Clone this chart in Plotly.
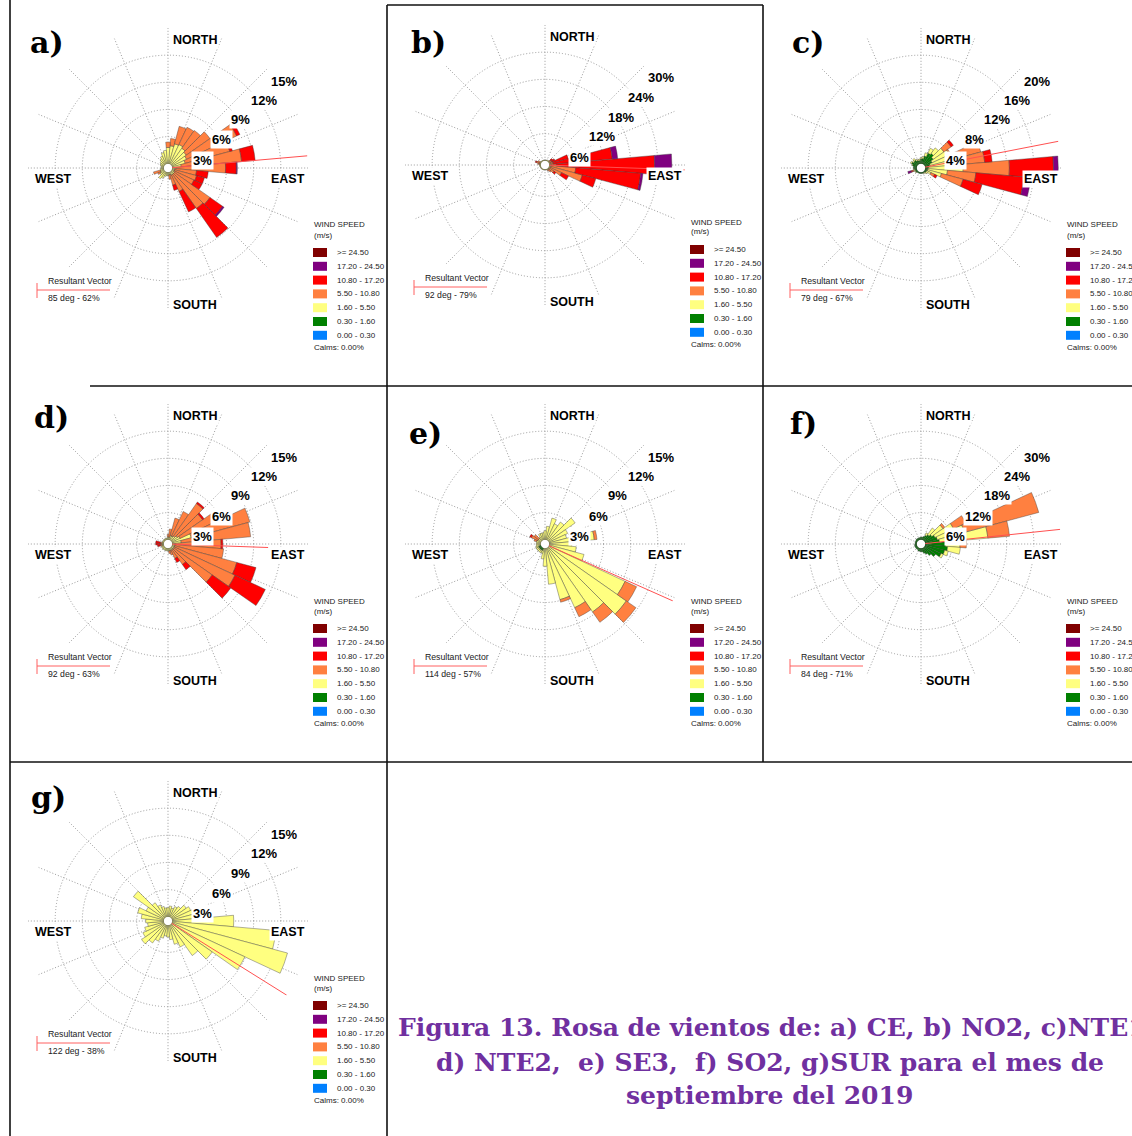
import plotly.graph_objects as go

W, H = 1132, 1136

# wind directions (deg, blowing-from, 36 sectors)
DIRS = [10 * i for i in range(1, 37)]

CLASS_NAMES = [">= 24.50", "17.20 - 24.50", "10.80 - 17.20", "5.50 - 10.80",
               "1.60 - 5.50", "0.30 - 1.60", "0.00 - 0.30"]
CLASS_COLORS = ["#800000", "#800080", "#FF0000", "#FF8040",
                "#FFFF80", "#008000", "#0080FF"]

# ---------------- panel a) CE ----------------
A_Y = [2.0, 2.3, 2.4, 2.2, 2.0, 1.8, 1.5, 1.0, 0.5, 0.3, 0.3, 0.3, 0.4, 0.4, 0.4, 0.3, 0.3, 0.4,
       0.4, 0.5, 0.8, 1.0, 0.6, 0.5, 0.4, 0.4, 0.3, 0.3, 0.4, 0.5, 0.6, 0.8, 1.0, 1.3, 1.5, 1.8]
A_O = [0.8, 2.0, 2.1, 2.4, 3.2, 6.1, 5.1, 6.7, 5.4, 2.4, 2.5, 2.4, 4.8, 4.6, 2.0, 1.2, 0.5, 0,
       0, 0, 0, 0, 0, 0.3, 0.8, 0, 0, 0, 0, 0, 0, 0, 0, 0, 0, 0.6]
A_R = [0, 0, 0, 0, 0, 0.4, 0.3, 1.5, 1.2, 1.3, 0.9, 1.0, 1.7, 3.9, 2.5, 0.6, 0, 0,
       0, 0, 0, 0, 0, 0, 0, 0, 0, 0, 0, 0, 0, 0, 0, 0, 0, 0]
A_P = [0, 0, 0, 0, 0, 0, 0, 0, 0.1, 0, 0, 0, 0.2, 0, 0, 0, 0, 0,
       0, 0, 0, 0, 0, 0, 0, 0, 0, 0, 0, 0, 0, 0, 0, 0, 0, 0]

# ---------------- panel b) NO2 ----------------
B_Y = [0.2, 0.2, 0.3, 0.3, 0.3, 0.3, 0.4, 0.4, 0.4, 0.4, 0.4, 0.3, 0.3, 0.3, 0.3, 0.2, 0.2, 0.2,
       0.2, 0.2, 0.2, 0.2, 0.2, 0.2, 0.2, 0.3, 0.3, 0.3, 0.3, 0.3, 0.3, 0.2, 0.2, 0.2, 0.2, 0.2]
B_O = [0, 0, 0, 0, 0.3, 0.4, 0.5, 0.5, 1.2, 5.5, 7.2, 2.8, 1.2, 0.7, 0.3, 0, 0, 0,
       0, 0, 0, 0, 0, 0, 0, 0, 0, 0.4, 0.7, 0.5, 0, 0, 0, 0, 0, 0]
B_R = [0, 0, 0, 0, 0.5, 0.8, 3.5, 13.1, 21.7, 14.4, 3.1, 1.7, 0.5, 0, 0, 0, 0, 0,
       0, 0, 0, 0, 0, 0, 0, 0, 0, 0, 0.3, 0, 0, 0, 0, 0, 0, 0]
B_P = [0, 0, 0, 0, 0, 0, 0, 1.2, 3.8, 0.5, 0, 0, 0, 0, 0, 0, 0, 0,
       0, 0, 0, 0, 0, 0, 0, 0, 0, 0, 0, 0, 0, 0, 0, 0, 0, 0]

# ---------------- panel c) NTE1 ----------------
C_G = [0.8, 1.2, 1.8, 2.0, 1.6, 1.2, 0.8, 0.6, 0.5, 0.4, 0.4, 0.3, 0.3, 0.2, 0.2, 0.2, 0.2, 0.2,
       0.2, 0.2, 0.2, 0.2, 0.3, 0.3, 0.3, 0.4, 0.5, 0.5, 0.7, 0.9, 0.7, 0.8, 0.6, 0.5, 0.5, 0.7]
C_Y = [0.3, 0.5, 0.8, 1.0, 1.9, 2.8, 4.2, 4.4, 5.1, 2.9, 2.1, 0.7, 0.3, 0.2, 0.1, 0, 0, 0,
       0, 0, 0, 0, 0.1, 0.1, 0.2, 0.1, 0, 0, 0.1, 0.2, 0.2, 0.3, 0.2, 0.2, 0.2, 0.2]
C_O = [0, 0, 0, 0, 1.3, 0.2, 3.5, 3.8, 6.8, 4.2, 3.3, 0.6, 0, 0, 0, 0, 0, 0,
       0, 0, 0, 0, 0, 0, 0.2, 0, 0, 0, 0, 0, 0, 0, 0, 0, 0, 0]
C_R = [0, 0, 0, 0, 0.4, 0, 0, 1.1, 6.5, 7.1, 2.9, 0.4, 0, 0, 0, 0, 0, 0,
       0, 0, 0, 0, 0, 0, 0.2, 0, 0, 0, 0, 0, 0, 0, 0, 0, 0, 0]
C_P = [0, 0, 0, 0, 0, 0, 0, 0, 0.7, 1.0, 0, 0, 0, 0, 0, 0, 0, 0,
       0, 0, 0, 0, 0, 0, 0.5, 0, 0, 0, 0, 0, 0, 0, 0, 0, 0, 0]

# ---------------- panel d) NTE2 ----------------
D_Y = [0.3, 0.5, 0.5, 0.6, 0.8, 1.0, 2.2, 1.0, 0.3, 0.3, 0.3, 0.3, 0.3, 0.3, 0.3, 0.3, 0.3, 0.3,
       0.3, 0.3, 0.3, 0.3, 0.3, 0.3, 0.3, 0.2, 0.2, 0.2, 0.2, 0.2, 0.2, 0.2, 0.2, 0.2, 0.2, 0.3]
D_O = [0.9, 2.0, 3.0, 4.4, 3.4, 4.8, 6.7, 7.7, 5.1, 5.4, 7.1, 7.4, 5.2, 2.0, 1.0, 0.5, 0.3, 0,
       0, 0, 0, 0, 0, 0, 0, 0.2, 0.2, 0.2, 0, 0, 0, 0, 0, 0, 0, 0.3]
D_R = [0, 0, 0, 0.2, 0.2, 0.2, 0, 0, 0.2, 0, 2.2, 3.7, 2.5, 0.7, 0.5, 0, 0, 0,
       0, 0, 0, 0, 0, 0, 0, 0.3, 0.5, 0.5, 0, 0, 0, 0, 0, 0, 0, 0]

# ---------------- panel e) SE3 ----------------
E_G = [0, 0, 0, 0, 0, 0, 0, 0, 0, 0, 0, 0, 0, 0, 0, 0, 0, 0,
       0, 0.3, 0.3, 0.3, 0.3, 0.3, 0.3, 0, 0, 0, 0, 0, 0, 0, 0, 0, 0, 0]
E_Y = [1.5, 2.5, 2.0, 2.5, 3.6, 2.3, 2.0, 5.0, 2.5, 3.0, 4.0, 9.3, 10.5, 8.7, 7.3, 5.9, 4.0, 2.0,
       1.2, 0.3, 0.3, 0.3, 0.3, 0.3, 0.3, 0.5, 0.5, 0.5, 0.5, 0.4, 0.4, 0.5, 0.8, 0.8, 0.8, 1.0]
E_O = [0, 0, 0, 0, 0, 0, 0, 0.3, 0, 0, 0, 1.4, 1.3, 1.4, 1.1, 0.3, 0, 0,
       0, 0, 0, 0, 0, 0, 0, 0, 0, 0, 0.3, 0.8, 0.6, 0, 0, 0, 0, 0]
E_R = [0, 0, 0, 0, 0, 0, 0, 0, 0, 0, 0, 0, 0, 0, 0, 0, 0, 0,
       0, 0, 0, 0, 0, 0, 0, 0, 0, 0, 0, 0.2, 0, 0, 0, 0, 0, 0]

# ---------------- panel f) SO2 ----------------
F_G = [0.6, 0.8, 1.2, 1.6, 2.0, 2.5, 2.8, 3.2, 4.5, 5.0, 4.5, 4.0, 3.0, 2.2, 1.6, 1.2, 0.8, 0.8,
       0.7, 0.7, 0.5, 0.5, 0.5, 0.5, 0.5, 0.5, 0.4, 0.4, 0.4, 0.4, 0.5, 0.5, 0.5, 0.5, 0.5, 0.6]
F_Y = [0, 0, 0.6, 1.8, 3.0, 4.5, 6.2, 10.7, 3.2, 2.8, 0.8, 0.5, 0, 0, 0, 0, 0, 0,
       0, 0, 0, 0, 0, 0, 0, 0, 0, 0, 0, 0, 0, 0, 0, 0, 0, 0]
F_O = [0, 0, 0, 0, 0.5, 3.0, 17.0, 4.8, 1.4, 0, 0, 0, 0, 0, 0, 0, 0, 0,
       0, 0, 0, 0, 0, 0, 0, 0, 0, 0, 0, 0, 0, 0, 0, 0, 0, 0]

# ---------------- panel g) SUR ----------------
G_Y = [1.2, 1.0, 1.3, 1.5, 2.0, 2.3, 2.6, 2.5, 6.8, 11.5, 13.2, 8.9, 5.5, 4.2, 2.7, 2.2, 1.6, 1.3,
       1.2, 1.5, 2.0, 2.5, 3.1, 2.6, 2.2, 1.8, 2.0, 2.5, 3.0, 2.2, 4.2, 2.0, 1.5, 1.2, 1.0, 1.0]

ZERO = [0] * 36
# stacking order from centre outward: green, yellow, orange, red, purple
PANEL_SERIES = [
    {"G": ZERO, "Y": A_Y, "O": A_O, "R": A_R, "P": A_P},
    {"G": ZERO, "Y": B_Y, "O": B_O, "R": B_R, "P": B_P},
    {"G": C_G, "Y": C_Y, "O": C_O, "R": C_R, "P": C_P},
    {"G": ZERO, "Y": D_Y, "O": D_O, "R": D_R, "P": ZERO},
    {"G": E_G, "Y": E_Y, "O": E_O, "R": E_R, "P": ZERO},
    {"G": F_G, "Y": F_Y, "O": F_O, "R": ZERO, "P": ZERO},
    {"G": ZERO, "Y": G_Y, "O": ZERO, "R": ZERO, "P": ZERO},
]
KEY_COLOR = {"G": CLASS_COLORS[5], "Y": CLASS_COLORS[4], "O": CLASS_COLORS[3],
             "R": CLASS_COLORS[2], "P": CLASS_COLORS[1]}

PANEL_LABELS = ["a)", "b)", "c)", "d)", "e)", "f)", "g)"]
RMAX = [15, 30, 20, 15, 15, 30, 15]
RES_DEG = [85, 92, 79, 92, 114, 84, 122]
RES_PCT = [62, 79, 67, 63, 57, 71, 38]
RES_LEN = [15, 30, 20, 10.6, 15, 30, 15]

# ---------------- layout geometry (pixels) ----------------
CENTERS = [(168, 168), (545, 165), (921, 168), (168, 544), (545, 544), (921, 544), (168, 921)]
LABEL_POS = [(47, 42), (429, 42), (808, 42), (51, 417), (425, 433), (803, 423), (48, 797)]
RADIUS = 140
GRID = "#9a9a9a"
GRID_DASH = "1px,2px"


def fx(x):
    return x / W


def fy(y):
    return 1 - y / H


fig = go.Figure()
layout_polars = {}
annotations = []
shapes = []

for i in range(7):
    pid = "polar" if i == 0 else f"polar{i + 1}"
    cx, cy = CENTERS[i]
    rmax = RMAX[i]
    rings = [rmax * k / 5 for k in range(1, 6)]
    series = PANEL_SERIES[i]
    for key in ["G", "Y", "O", "R", "P"]:
        vals = series[key]
        if not any(vals):
            continue
        fig.add_trace(go.Barpolar(
            r=vals, theta=DIRS, width=10, subplot=pid, showlegend=False,
            marker=dict(color=KEY_COLOR[key], line=dict(color="#3a3a3a", width=0.4)),
            hoverinfo="skip"))
    fig.add_trace(go.Scatterpolar(
        r=[0, RES_LEN[i]], theta=[RES_DEG[i], RES_DEG[i]], mode="lines", subplot=pid,
        line=dict(color="#FF5050", width=1), showlegend=False, hoverinfo="skip"))

    layout_polars[pid] = dict(
        domain=dict(x=[fx(cx - RADIUS), fx(cx + RADIUS)], y=[fy(cy + RADIUS), fy(cy - RADIUS)]),
        bgcolor="white", hole=0.03, barmode="stack",
        angularaxis=dict(rotation=90, direction="clockwise", tickmode="array",
                         tickvals=[k * 22.5 for k in range(16)], showticklabels=False,
                         ticks="", gridcolor=GRID, griddash=GRID_DASH, gridwidth=1,
                         showline=False),
        radialaxis=dict(range=[0, rmax], tickmode="array", tickvals=rings,
                        showticklabels=False, ticks="", gridcolor=GRID,
                        griddash=GRID_DASH, gridwidth=1, showline=False),
    )

    # panel letter
    lx, ly = LABEL_POS[i]
    annotations.append(dict(x=fx(lx), y=fy(ly), xref="paper", yref="paper", text=PANEL_LABELS[i],
                            showarrow=False, xanchor="center", yanchor="middle",
                            font=dict(family="DejaVu Serif", size=30, color="black", weight="bold")))
    # compass labels
    for txt, dx, dy in [("NORTH", 3, -128), ("SOUTH", 3, 137), ("WEST", -135, 11), ("EAST", 101, 11)]:
        annotations.append(dict(x=fx(cx + dx), y=fy(cy + dy), xref="paper", yref="paper", text=txt,
                                showarrow=False, xanchor="left", yanchor="middle", bgcolor="white",
                                borderpad=1,
                                font=dict(family="Liberation Sans", size=12.5, color="black",
                                          weight="bold")))
    # ring labels
    for k, (dx, dy) in enumerate([(23, -8), (42, -28), (61, -48), (81, -68), (101, -87)]):
        annotations.append(dict(x=fx(cx + dx), y=fy(cy + dy), xref="paper", yref="paper",
                                text=f"{int(rings[k])}%", showarrow=False, xanchor="left",
                                yanchor="middle", bgcolor="white", borderpad=1,
                                font=dict(family="Liberation Sans", size=13, color="black",
                                          weight="bold")))
    # wind speed legend
    small = dict(family="Liberation Sans", size=8, color="#222")
    annotations.append(dict(x=fx(cx + 144), y=fy(cy + 57), xref="paper", yref="paper",
                            text="WIND SPEED", showarrow=False, xanchor="left", yanchor="middle",
                            font=small))
    annotations.append(dict(x=fx(cx + 144), y=fy(cy + 67), xref="paper", yref="paper",
                            text="(m/s)", showarrow=False, xanchor="left", yanchor="middle",
                            font=small))
    for j, (name, col) in enumerate(zip(CLASS_NAMES, CLASS_COLORS)):
        yc = cy + 84.5 + 13.8 * j
        shapes.append(dict(type="rect", xref="paper", yref="paper",
                           x0=fx(cx + 145), x1=fx(cx + 159), y0=fy(yc + 4.5), y1=fy(yc - 4.5),
                           fillcolor=col, line=dict(width=0)))
        annotations.append(dict(x=fx(cx + 167), y=fy(yc), xref="paper", yref="paper", text=name,
                                showarrow=False, xanchor="left", yanchor="middle", font=small))
    annotations.append(dict(x=fx(cx + 144), y=fy(cy + 179), xref="paper", yref="paper",
                            text="Calms: 0.00%", showarrow=False, xanchor="left",
                            yanchor="middle", font=small))
    # resultant vector box
    rv = dict(family="Liberation Sans", size=8.7, color="#222")
    annotations.append(dict(x=fx(cx - 122), y=fy(cy + 113), xref="paper", yref="paper",
                            text="Resultant Vector", showarrow=False, xanchor="left",
                            yanchor="middle", font=rv))
    annotations.append(dict(x=fx(cx - 122), y=fy(cy + 130), xref="paper", yref="paper",
                            text=f"{RES_DEG[i]} deg - {RES_PCT[i]}%", showarrow=False,
                            xanchor="left", yanchor="middle", font=rv))
    shapes.append(dict(type="line", xref="paper", yref="paper", x0=fx(cx - 131), x1=fx(cx - 58),
                       y0=fy(cy + 122), y1=fy(cy + 122), line=dict(color="#FF6060", width=1)))
    shapes.append(dict(type="line", xref="paper", yref="paper", x0=fx(cx - 131), x1=fx(cx - 131),
                       y0=fy(cy + 115), y1=fy(cy + 130), line=dict(color="#FF6060", width=1)))

# panel borders
BORDERS = [(10, 0, 10, 1136), (387, 5, 387, 1136), (763, 5, 763, 762), (387, 5, 763, 5),
           (90, 386, 1132, 386), (10, 762, 1132, 762)]
for x0, y0, x1, y1 in BORDERS:
    shapes.append(dict(type="line", xref="paper", yref="paper", x0=fx(x0), x1=fx(x1),
                       y0=fy(y0), y1=fy(y1), line=dict(color="#111", width=1.6)))

# caption
CAPTION = ["Figura 13. Rosa de vientos de: a) CE, b) NO2, c)NTE1",
           "d) NTE2,  e) SE3,  f) SO2, g)SUR para el mes de",
           "septiembre del 2019"]
cap_font = dict(family="DejaVu Serif", size=25, color="#7030A0", weight="bold")
annotations.append(dict(x=fx(396), y=fy(1027), xref="paper", yref="paper", text=CAPTION[0],
                        showarrow=False, xanchor="left", yanchor="middle", font=cap_font))
annotations.append(dict(x=fx(770), y=fy(1062), xref="paper", yref="paper", text=CAPTION[1],
                        showarrow=False, xanchor="center", yanchor="middle", font=cap_font))
annotations.append(dict(x=fx(770), y=fy(1095), xref="paper", yref="paper", text=CAPTION[2],
                        showarrow=False, xanchor="center", yanchor="middle", font=cap_font))

fig.update_layout(width=W, height=H, margin=dict(l=0, r=0, t=0, b=0),
                  paper_bgcolor="white", plot_bgcolor="white", showlegend=False,
                  annotations=annotations, shapes=shapes, **layout_polars)

fig.write_html("out.html")
